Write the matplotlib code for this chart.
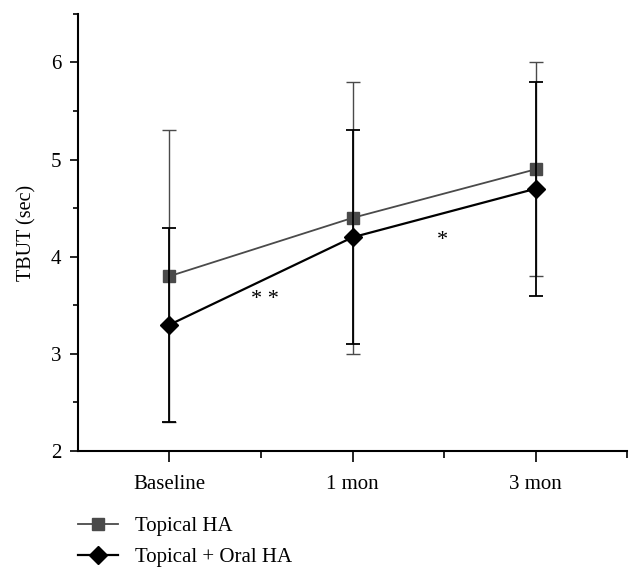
import matplotlib
matplotlib.use("Agg")
import matplotlib.pyplot as plt
from matplotlib.ticker import MultipleLocator, FixedLocator
from matplotlib.lines import Line2D

categories = ["Baseline", "1 mon", "3 mon"]
topical_mean = [3.8, 4.4, 4.9]
topical_sd = [1.5, 1.4, 1.1]
combo_mean = [3.3, 4.2, 4.7]
combo_sd = [1.0, 1.1, 1.1]
y_ticks = [2, 3, 4, 5, 6]
annotations = [("* *", 0.52, 3.56), ("*", 1.49, 4.17)]

plt.rcParams['font.family'] = ['Liberation Serif', 'DejaVu Serif']

fig = plt.figure(figsize=(6.34, 5.79), dpi=100)
ax = fig.add_axes([0.123, 0.221, 0.866, 0.755])

x = list(range(len(categories)))
grey = '#4a4a4a'
ax.errorbar(x, topical_mean, yerr=topical_sd, color=grey, ecolor=grey, elinewidth=1.0,
            capsize=5, capthick=1.0, lw=1.3, marker='s', ms=9, mfc=grey, mec=grey,
            label='Topical HA', zorder=3)
ax.errorbar(x, combo_mean, yerr=combo_sd, color='black', ecolor='black', elinewidth=1.3,
            capsize=5, capthick=1.3, lw=1.6, marker='D', ms=9, mfc='black', mec='black',
            label='Topical + Oral HA', zorder=4)

for txt, xx, yy in annotations:
    ax.text(xx, yy, txt, ha='center', va='center', fontsize=16)

ax.set_xlim(-0.5, 2.5)
ax.set_ylim(2, 6.5)
ax.set_xticks(x)
ax.set_xticklabels(categories, fontsize=15)
ax.xaxis.set_minor_locator(FixedLocator([0.5, 1.5, 2.5]))
ax.set_yticks(y_ticks)
ax.set_yticklabels([str(v) for v in y_ticks], fontsize=15)
ax.yaxis.set_minor_locator(MultipleLocator(0.5))
ax.tick_params(axis='both', which='major', direction='out', length=6, width=1.2, pad=6)
ax.tick_params(axis='both', which='minor', direction='out', length=3.5, width=1.2)
ax.tick_params(axis='x', which='major', length=8, pad=9)
ax.tick_params(axis='x', which='minor', length=5)
ax.spines['top'].set_visible(False)
ax.spines['right'].set_visible(False)
ax.spines['left'].set_linewidth(1.5)
ax.spines['bottom'].set_linewidth(1.5)
ax.set_ylabel('TBUT (sec)', fontsize=14.5, labelpad=10)

labels = ['Topical HA', 'Topical + Oral HA']
handles = [Line2D([0], [0], color=grey, lw=1.3, marker='s', ms=9, mfc=grey, mec=grey),
           Line2D([0], [0], color='black', lw=1.6, marker='D', ms=9, mfc='black', mec='black')]
fig.legend(handles, labels, loc='upper left', bbox_to_anchor=(0.094, 0.14), frameon=False,
           fontsize=15, handlelength=1.9, labelspacing=0.55, handletextpad=0.8)

fig.savefig('out.png', dpi=100)
